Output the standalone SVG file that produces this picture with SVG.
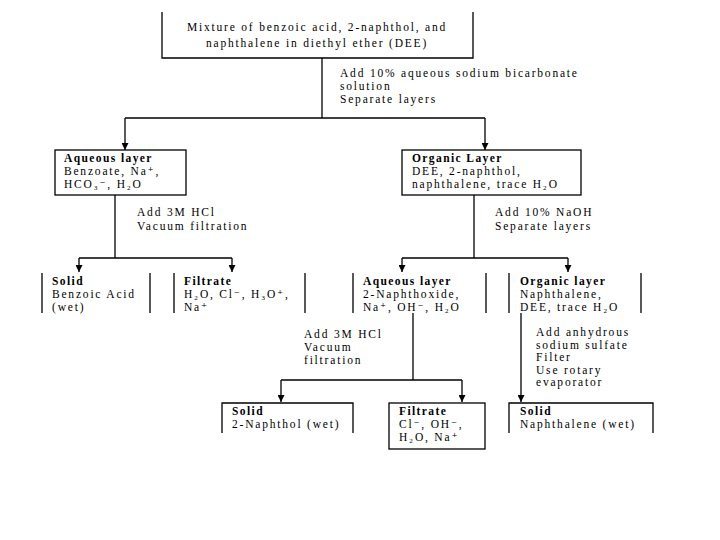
<svg xmlns="http://www.w3.org/2000/svg" width="720" height="540" viewBox="0 0 720 540">
<defs>
<marker id="ah" viewBox="0 0 10 10" refX="10" refY="5" markerWidth="7" markerHeight="7" orient="auto" markerUnits="userSpaceOnUse">
<path d="M0,0 L10,5 L0,10 z" fill="#000"/>
</marker>
<style>
text{font-family:"Liberation Serif","DejaVu Serif","Times New Roman",serif;font-size:11.5px;fill:#000;letter-spacing:1.8px}
.b{font-weight:bold;letter-spacing:1.4px}
.box{fill:#fff;stroke:#000;stroke-width:1.3}
.ln{fill:none;stroke:#000;stroke-width:1.3}
.c line,.c polyline{fill:none;stroke:#000;stroke-width:1.3}
</style>
</defs>
<rect width="720" height="540" fill="#fff"/>
<g class="c" id="connectors">
<polyline points="322,58 322,118"/>
<polyline points="125,118 485,118"/>
<line x1="125" y1="118" x2="125" y2="150" marker-end="url(#ah)"/>
<line x1="485" y1="118" x2="485" y2="150" marker-end="url(#ah)"/>
<polyline points="115,195 115,258"/>
<polyline points="79,258 232,258"/>
<line x1="79" y1="258" x2="79" y2="272" marker-end="url(#ah)"/>
<line x1="232" y1="258" x2="232" y2="272" marker-end="url(#ah)"/>
<polyline points="474,195 474,258"/>
<polyline points="402,258 568,258"/>
<line x1="402" y1="258" x2="402" y2="272" marker-end="url(#ah)"/>
<line x1="568" y1="258" x2="568" y2="272" marker-end="url(#ah)"/>
<polyline points="413,313 413,380"/>
<polyline points="281,380 462,380"/>
<line x1="281" y1="380" x2="281" y2="402" marker-end="url(#ah)"/>
<line x1="462" y1="380" x2="462" y2="402" marker-end="url(#ah)"/>
<line x1="521" y1="313" x2="521" y2="402" marker-end="url(#ah)"/>
</g>
<g id="step1">
<text x="340" y="77">Add 10% aqueous sodium bicarbonate</text>
<text x="340" y="90">solution</text>
<text x="340" y="103">Separate layers</text>
</g>
<g id="step2">
<text x="137" y="216">Add 3M HCl</text>
<text x="137" y="230">Vacuum filtration</text>
</g>
<g id="step3">
<text x="495" y="216">Add 10% NaOH</text>
<text x="495" y="230">Separate layers</text>
</g>
<g id="step4">
<text x="304" y="338">Add 3M HCl</text>
<text x="304" y="351">Vacuum</text>
<text x="304" y="364">filtration</text>
</g>
<g id="step5">
<text x="536" y="336">Add anhydrous</text>
<text x="536" y="348.5">sodium sulfate</text>
<text x="536" y="361">Filter</text>
<text x="536" y="373.5">Use rotary</text>
<text x="536" y="386">evaporator</text>
</g>
<g id="mixture">
<path class="ln" d="M162,12 V58 H473 V12"/>
<text x="317" y="31" text-anchor="middle">Mixture of benzoic acid, 2-naphthol, and</text>
<text x="317" y="47" text-anchor="middle">naphthalene in diethyl ether (DEE)</text>
</g>
<g id="aqueous1">
<rect class="box" x="55" y="150" width="131" height="45"/>
<text x="64" y="162" class="b">Aqueous layer</text>
<text x="64" y="175">Benzoate, Na⁺,</text>
<text x="64" y="188">HCO₃⁻, H₂O</text>
</g>
<g id="organic1">
<rect class="box" x="402" y="150" width="179" height="45"/>
<text x="412" y="162" class="b">Organic Layer</text>
<text x="412" y="175">DEE, 2-naphthol,</text>
<text x="412" y="188">naphthalene, trace H₂O</text>
</g>
<g id="solid1">
<path class="ln" d="M42,273 V313 M150,273 V313"/>
<text x="52" y="285" class="b">Solid</text>
<text x="52" y="298">Benzoic Acid</text>
<text x="52" y="311">(wet)</text>
</g>
<g id="filtrate1">
<path class="ln" d="M174,273 V313 M305,273 V313"/>
<text x="184" y="285" class="b">Filtrate</text>
<text x="184" y="298">H₂O, Cl⁻, H₃O⁺,</text>
<text x="184" y="311">Na⁺</text>
</g>
<g id="aqueous2">
<path class="ln" d="M353,273 V313 M486,273 V313"/>
<text x="363" y="285" class="b">Aqueous layer</text>
<text x="363" y="298">2-Naphthoxide,</text>
<text x="363" y="311">Na⁺, OH⁻, H₂O</text>
</g>
<g id="organic2">
<path class="ln" d="M509,273 V313 M641,273 V313"/>
<text x="520" y="285" class="b">Organic layer</text>
<text x="520" y="298">Naphthalene,</text>
<text x="520" y="311">DEE, trace H₂O</text>
</g>
<g id="solid2">
<path class="ln" d="M222,433 V403 H353 V433"/>
<text x="232" y="415" class="b">Solid</text>
<text x="232" y="428">2-Naphthol (wet)</text>
</g>
<g id="filtrate2">
<rect class="box" x="389" y="403" width="96" height="46"/>
<text x="399" y="415" class="b">Filtrate</text>
<text x="399" y="428">Cl⁻, OH⁻,</text>
<text x="399" y="441">H₂O, Na⁺</text>
</g>
<g id="solid3">
<path class="ln" d="M509,433 V403 H653 V433"/>
<text x="520" y="415" class="b">Solid</text>
<text x="520" y="428">Naphthalene (wet)</text>
</g>
</svg>
